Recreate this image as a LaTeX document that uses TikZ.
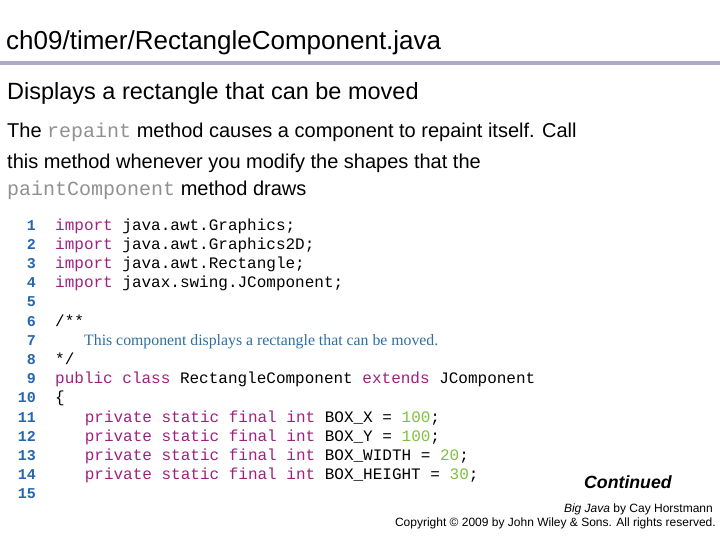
\documentclass[tikz,border=0pt]{standalone}
\usepackage{fontspec}
\setmainfont{Liberation Sans}
\setmonofont{Liberation Mono}
\newfontfamily\serifc{Liberation Serif}
\definecolor{kw}{HTML}{A0207F}
\definecolor{num}{HTML}{80C040}
\definecolor{lnum}{HTML}{2466B0}
\definecolor{cmt}{HTML}{2E6E9E}
\definecolor{rule}{HTML}{B0A8C8}
\definecolor{gmono}{HTML}{909090}
\newcommand{\K}[1]{\textcolor{kw}{#1}}
\newcommand{\N}[1]{\textcolor{num}{#1}}
\begin{document}
\begin{tikzpicture}[x=1pt,y=-1pt,
  txt/.style={anchor=base west,inner sep=0pt,font=\fontsize{20}{24}\selectfont},
  code/.style={anchor=base west,inner sep=0pt,font=\fontsize{16}{19}\ttfamily},
  ln/.style={anchor=base east,inner sep=0pt,text=lnum,font=\fontsize{15}{18}\ttfamily\bfseries}]
\useasboundingbox (0,0) rectangle (720,540);
\node[txt,font=\fontsize{26}{30}\selectfont] (title) at (6,50) {ch09/timer/RectangleComponent.java};
\draw[rule,line width=4pt] (0,63) -- (720,63);
\node[txt,font=\fontsize{23.5}{28}\selectfont] (p1) at (7,100) {Displays a rectangle that can be moved};
\node[txt] (p2) at (7,138) {The {\ttfamily\color{gmono}repaint} method causes a component to repaint itself. Call};
\node[txt] (p3) at (7,169) {this method whenever you modify the shapes that the};
\node[txt] (p4) at (7,196) {{\ttfamily\color{gmono}paintComponent} method draws};
\foreach \i in {1,...,15}{\node[ln] (n\i) at (36,{230+(\i-1)*19.2}) {\i};}
\node[code] (l1) at (55,230) {\K{import} java.awt.Graphics;};
\node[code] (l2) at (55,249.2) {\K{import} java.awt.Graphics2D;};
\node[code] (l3) at (55,268.4) {\K{import} java.awt.Rectangle;};
\node[code] (l4) at (55,287.6) {\K{import} javax.swing.JComponent;};
\node[code] (l6) at (55,326) {/**};
\node[anchor=base west,inner sep=0pt,text=cmt,font=\fontsize{15.8}{18}\serifc] (l7) at (84,345.2) {This component displays a rectangle that can be moved.};
\node[code] (l8) at (55,364.4) {*/};
\node[code] (l9) at (55,383.6) {\K{public} \K{class} RectangleComponent \K{extends} JComponent};
\node[code] (l10) at (55,402.8) {\{};
\node[code] (l11) at (84.6,422) {\K{private} \K{static} \K{final} \K{int} BOX\_X = \N{100};};
\node[code] (l12) at (84.6,441.2) {\K{private} \K{static} \K{final} \K{int} BOX\_Y = \N{100};};
\node[code] (l13) at (84.6,460.4) {\K{private} \K{static} \K{final} \K{int} BOX\_WIDTH = \N{20};};
\node[code] (l14) at (84.6,479.6) {\K{private} \K{static} \K{final} \K{int} BOX\_HEIGHT = \N{30};};
\node[anchor=base west,inner sep=0pt,font=\fontsize{17.7}{21}\selectfont\bfseries\itshape] (cont) at (584,488) {Continued};
\node[anchor=base east,inner sep=0pt,font=\fontsize{12}{14}\selectfont] (bj) at (713,512) {\textit{Big Java} by Cay Horstmann};
\node[anchor=base east,inner sep=0pt,font=\fontsize{12}{14}\selectfont] (cp) at (716,526) {Copyright © 2009 by John Wiley \& Sons.  All rights reserved.};
\end{tikzpicture}
\end{document}
